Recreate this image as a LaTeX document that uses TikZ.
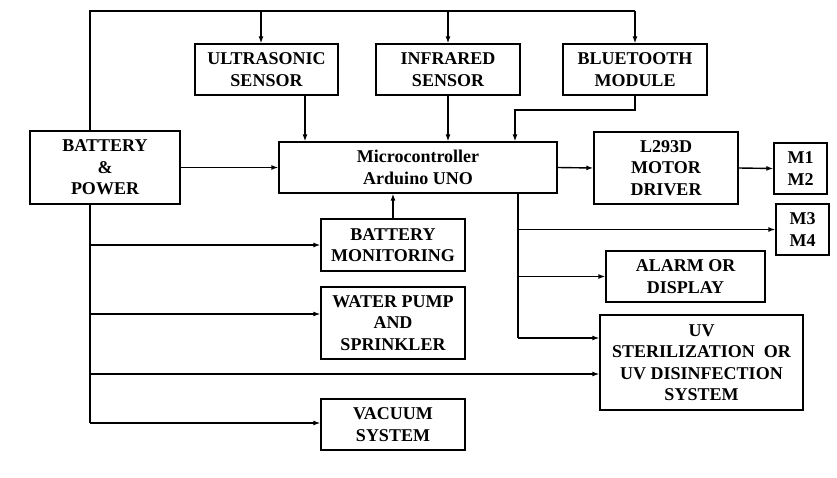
\documentclass[tikz,border=0pt]{standalone}
\usepackage{fontspec}
\setmainfont{Liberation Serif}
\usetikzlibrary{arrows.meta}
\tikzset{
	blk/.style={draw, line width=1.3pt, align=center, inner sep=2pt,
		font=\fontsize{18}{21.5}\selectfont\bfseries},
	arr/.style={-{Latex[length=7pt,width=5pt]}},
}
\begin{document}
\begin{tikzpicture}[x=1pt,y=-1pt,line width=1.4pt]
		\useasboundingbox (0,0) rectangle (837,478);
		% blocks
		\node[blk, minimum width=150, minimum height=73] (bat) at (105,167.5) {BATTERY\\\&\\POWER};
		\node[blk, minimum width=143, minimum height=51] (ultra) at (266.5,69.5) {ULTRASONIC\\SENSOR};
		\node[blk, minimum width=144, minimum height=51] (infra) at (448,69.5) {INFRARED\\SENSOR};
		\node[blk, minimum width=144, minimum height=51] (blue) at (635,69.5) {BLUETOOTH\\MODULE};
		\node[blk, minimum width=278, minimum height=51] (mcu) at (418,167.5) {Microcontroller\\Arduino UNO};
		\node[blk, minimum width=144, minimum height=72] (drv) at (666,168) {L293D\\MOTOR\\DRIVER};
		\node[blk, minimum width=53, minimum height=51] (m12) at (800.5,168.5) {M1\\M2};
		\node[blk, minimum width=53, minimum height=51] (m34) at (802.5,229.5) {M3\\M4};
		\node[blk, minimum width=144, minimum height=52] (bmon) at (393,245) {BATTERY\\MONITORING};
		\node[blk, minimum width=144, minimum height=72] (pump) at (393,323) {WATER PUMP\\AND\\SPRINKLER};
		\node[blk, minimum width=144, minimum height=51] (vac) at (393,424.5) {VACUUM\\SYSTEM};
		\node[blk, minimum width=159, minimum height=51] (alarm) at (685.5,276.5) {ALARM OR\\DISPLAY};
		\node[blk, minimum width=203, minimum height=95] (uv) at (701.5,362.5) {UV\\STERILIZATION~ OR\\UV DISINFECTION\\SYSTEM};
		% supply bus on top
		\coordinate (top) at (90,11);
		\draw (top |- bat.north) -- (top) -- (top -| blue.north);
		\draw[arr] (top -| 261,0) -- (261,0 |- ultra.north);
		\draw[arr] (top -| infra.north) -- (infra.north);
		\draw[arr] (top -| blue.north) -- (blue.north);
		% inputs to the controller
		\coordinate (us) at (305,0);
		\draw[arr] (us |- ultra.south) -- (us |- mcu.north);
		\draw[arr] (infra.south) -- (infra.south |- mcu.north);
		\coordinate (bt) at (515,110);
		\draw[arr] (blue.south) |- (bt) -- (bt |- mcu.north);
		\draw[arr] (bat.east) -- (mcu.west);
		\draw[arr] (bmon.north) -- (bmon.north |- mcu.south);
		% controller outputs
		\draw[arr] (mcu.east) -- (drv.west);
		\draw[arr] (drv.east) -- (m12.west);
		\coordinate (mb) at (518,338);
		\draw (mb |- mcu.south) -- (mb);
		\draw[arr] (mb |- m34.west) -- (m34.west);
		\draw[arr] (mb |- alarm.west) -- (alarm.west);
		\draw[arr] (mb) -- (mb -| uv.west);
		% supply bus below
		\coordinate (bb) at (90,423);
		\draw (bb |- bat.south) -- (bb);
		\draw[arr] (bb |- bmon.west) -- (bmon.west);
		\draw[arr] (90,314) -- (pump.west |- 0,314);
		\draw[arr] (90,374) -- (uv.west |- 0,374);
		\draw[arr] (bb) -- (bb -| vac.west);
\end{tikzpicture}
\end{document}
